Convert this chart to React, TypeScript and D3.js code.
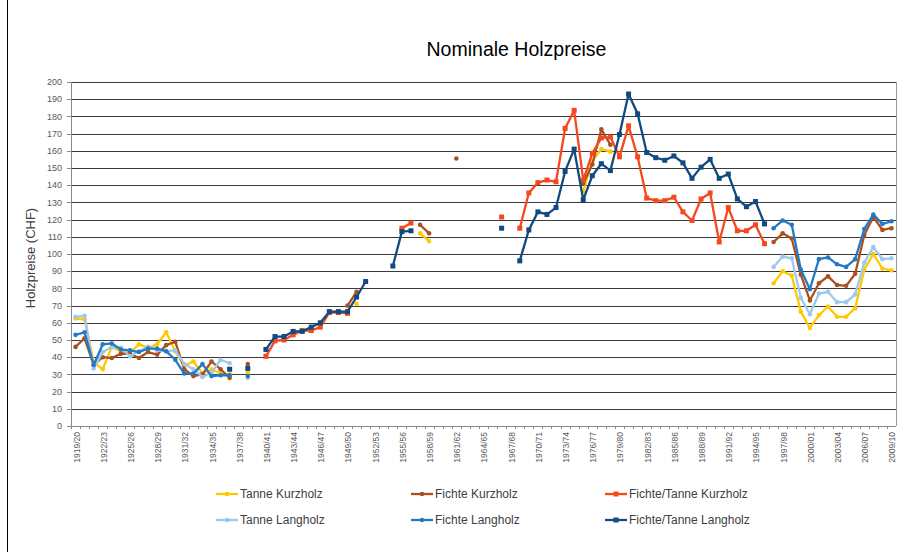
import * as d3 from "d3";

const _ = null;

// one category per season, 1919/20 .. 2009/10
const seasons: string[] = d3
  .range(1919, 2010)
  .map((y) => `${y}/${String((y + 1) % 100).padStart(2, "0")}`);

const yTicks = d3.range(0, 201, 10);

// values indexed by season (1919/20 = index 0), null = no data
const tanneKurz: (number | null)[] = [
  62.5, 62, 37, 33, 46, 43.5, 42.5, 47.5, 45.5, 47.5, 54.5, 43.5, 35, 37.5, 30.5, 33, 30.5, 30, _, 31,
  _, _, _, _, _, _, _, _, _, _, _, 71, _, _, _, _, _, _, 112, 107.5,
  _, _, _, _, _, _, _, _, _, _, _, _, _, _, _, _, 136.5, 154, 161, 159.5,
  _, _, _, _, _, _, _, _, _, _, _, _, _, _, _, _, _, 83, 90, 87.5,
  66.5, 57, 64.5, 69.5, 63.5, 63.5, 68.5, 91, 100, 91.5, 90.5,
];
const fichteKurz: (number | null)[] = [
  46, 51, 35.5, 40, 39.5, 42, 42, 39.5, 43, 41.5, 47, 49, 33, 29, 30, 37.5, 33, 28, _, 36,
  _, _, _, _, _, _, _, _, _, _, 70, 78, _, _, _, _, _, _, 117, 112,
  _, _, 155.5, _, _, _, _, _, _, _, _, _, _, _, _, _, 141, 152, 172.5, 163.5,
  _, _, _, _, _, _, _, _, _, _, _, _, _, _, _, _, _, 107, 112, 109,
  88, 73, 83, 87, 82, 81.5, 88.5, 111, 121.5, 114, 115,
];
const ftKurz: (number | null)[] = [
  _, _, _, _, _, _, _, _, _, _, _, _, _, _, _, _, _, _, _, _,
  _, 40.5, 49.5, 50, 53, 55.5, 55.5, 57.5, 66, 66, 65.5, _, _, _, _, _, 115, 118, _, _,
  _, _, _, _, _, _, _, 121.5, _, 115, 135.5, 141.5, 143, 142, 173, 183.5, 143, 158.5, 167.5, 168,
  156.5, 174.5, 156.5, 132.5, 131, 131, 133, 124.5, 119.5, 132, 135.5, 107, 127, 113.5, 113.5, 117, 106, _, _, _,
  _, _, _, _, _, _, _, _, _, _, _,
];
const tanneLang: (number | null)[] = [
  63.5, 64, 33.5, 43, 46, 45.5, 40.5, 43.5, 46, 44, 43.5, 44, 36, 33, 28.5, 31, 38.5, 36.5, _, 28,
  _, _, _, _, _, _, _, _, _, _, _, _, _, _, _, _, _, _, _, _,
  _, _, _, _, _, _, _, _, _, _, _, _, _, _, _, _, _, _, _, _,
  _, _, _, _, _, _, _, _, _, _, _, _, _, _, _, _, _, 92.5, 98.5, 97.5,
  74.5, 65, 77, 78, 72, 72, 76.5, 95, 104, 97, 97.5,
];
const fichteLang: (number | null)[] = [
  53, 54.5, 35.5, 47.5, 48, 44.5, 44, 43, 45, 45, 43.5, 38.5, 30.5, 30.5, 36, 29, 29.5, 29.5, _, 29,
  _, _, _, _, _, _, _, _, _, _, _, _, _, _, _, _, _, _, _, _,
  _, _, _, _, _, _, _, _, _, _, _, _, _, _, _, _, _, _, _, _,
  _, _, _, _, _, _, _, _, _, _, _, _, _, _, _, _, _, 115, 119.5, 117,
  91, 79.5, 97, 98, 94, 92.5, 97, 114.5, 123, 117.5, 119,
];
const ftLang: (number | null)[] = [
  _, _, _, _, _, _, _, _, _, _, _, _, _, _, _, _, _, 33, _, 33.5,
  _, 44.5, 52, 52, 55, 55, 57.5, 60, 66.5, 66.5, 66.5, 75, 84, _, _, 93, 113, 113.5, _, _,
  _, _, _, _, _, _, _, 115, _, 96, 114, 124.5, 123, 127, 148, 161, 131.5, 145.5, 152.5, 148.5,
  169.5, 193, 181.5, 159, 156, 154.5, 157, 153, 144, 150.5, 155, 144, 146.5, 132, 127.5, 130.5, 117.5, _, _, _,
  _, _, _, _, _, _, _, _, _, _, _,
];

const series = [
  { name: "Tanne Kurzholz", values: tanneKurz, color: "#FFC800", marker: "dot" },
  { name: "Fichte Kurzholz", values: fichteKurz, color: "#A9501E", marker: "dot" },
  { name: "Fichte/Tanne Kurzholz", values: ftKurz, color: "#F5481F", marker: "square" },
  { name: "Tanne Langholz", values: tanneLang, color: "#9EC8EC", marker: "dot" },
  { name: "Fichte Langholz", values: fichteLang, color: "#2479C6", marker: "dot" },
  { name: "Fichte/Tanne Langholz", values: ftLang, color: "#114A80", marker: "square" },
];

const W = 917;
const H = 552;
const plot = { left: 71, right: 896, top: 82, bottom: 426 };
const font = "Liberation Sans, Arial, sans-serif";

function Marker({ kind, cx, cy, color }: { kind: string; cx: number; cy: number; color: string }) {
  if (kind === "square") {
    return <rect x={cx - 2.5} y={cy - 2.5} width={5} height={5} fill={color} />;
  }
  return <circle cx={cx} cy={cy} r={2.3} fill={color} />;
}

export default function App() {
  const x = d3.scaleBand<string>().domain(seasons).range([plot.left, plot.right]);
  const bw = x.bandwidth();
  const cx = (i: number) => (x(seasons[i]) as number) + bw / 2;
  const y = d3.scaleLinear().domain([0, 200]).range([plot.bottom, plot.top]);

  const line = d3
    .line<number | null>()
    .defined((d) => d != null)
    .x((_d, i) => cx(i))
    .y((d) => y(d as number));

  const legendCols = [216, 411, 605];
  const legendRows = [494, 520];

  return (
    <svg
      width={W}
      height={H}
      style={{ position: "absolute", left: 0, top: 0, background: "#fff", fontFamily: font }}
    >
      <line x1={7.5} x2={7.5} y1={0} y2={H} stroke="#000" strokeWidth={1} />

      <text x={516.5} y={56} textAnchor="middle" fontSize={19.5} fill="#000">
        Nominale Holzpreise
      </text>

      {/* gridlines */}
      {yTicks.map((t) => (
        <line
          key={t}
          x1={plot.left}
          x2={plot.right}
          y1={Math.round(y(t)) + 0.5}
          y2={Math.round(y(t)) + 0.5}
          stroke={t === 0 ? "#888" : "#3a3a3a"}
          strokeWidth={1}
        />
      ))}
      <line x1={plot.right + 0.5} x2={plot.right + 0.5} y1={plot.top} y2={plot.bottom} stroke="#999" />

      {/* y axis */}
      <line x1={plot.left + 0.5} x2={plot.left + 0.5} y1={plot.top} y2={plot.bottom} stroke="#888" />
      {yTicks.map((t) => (
        <g key={t}>
          <line
            x1={plot.left - 4}
            x2={plot.left}
            y1={Math.round(y(t)) + 0.5}
            y2={Math.round(y(t)) + 0.5}
            stroke="#888"
          />
          <text x={62} y={y(t)} dy="0.35em" textAnchor="end" fontSize={9} fill="#595959">
            {t}
          </text>
        </g>
      ))}
      <text
        transform={`translate(35,${(plot.top + plot.bottom) / 2 + 4}) rotate(-90)`}
        textAnchor="middle"
        fontSize={13}
        fill="#404040"
      >
        Holzpreise (CHF)
      </text>

      {/* x axis */}
      {seasons.map((s) => (
        <line
          key={s}
          x1={Math.round(x(s) as number) + 0.5}
          x2={Math.round(x(s) as number) + 0.5}
          y1={plot.bottom}
          y2={plot.bottom + 3}
          stroke="#888"
        />
      ))}
      {seasons.map((s, i) =>
        i % 3 === 0 ? (
          <text
            key={s}
            transform={`translate(${cx(i) + 1},${plot.bottom + 6}) rotate(-90)`}
            dy="0.35em"
            textAnchor="end"
            fontSize={8.5}
            fill="#595959"
          >
            {s}
          </text>
        ) : null
      )}

      {/* series */}
      {series.map((s) => (
        <g key={s.name}>
          <path d={line(s.values) ?? ""} fill="none" stroke={s.color} strokeWidth={2.3} strokeLinejoin="round" />
          {s.values.map((v, i) =>
            v == null ? null : <Marker key={i} kind={s.marker} cx={cx(i)} cy={y(v)} color={s.color} />
          )}
        </g>
      ))}

      {/* legend */}
      {series.map((s, k) => {
        const lx = legendCols[k % 3];
        const ly = legendRows[Math.floor(k / 3)];
        return (
          <g key={s.name}>
            <line x1={lx} x2={lx + 22} y1={ly} y2={ly} stroke={s.color} strokeWidth={2.3} />
            <Marker kind={s.marker} cx={lx + 11} cy={ly} color={s.color} />
            <text x={lx + 24} y={ly} dy="0.35em" fontSize={12} fill="#404040">
              {s.name}
            </text>
          </g>
        );
      })}
    </svg>
  );
}
